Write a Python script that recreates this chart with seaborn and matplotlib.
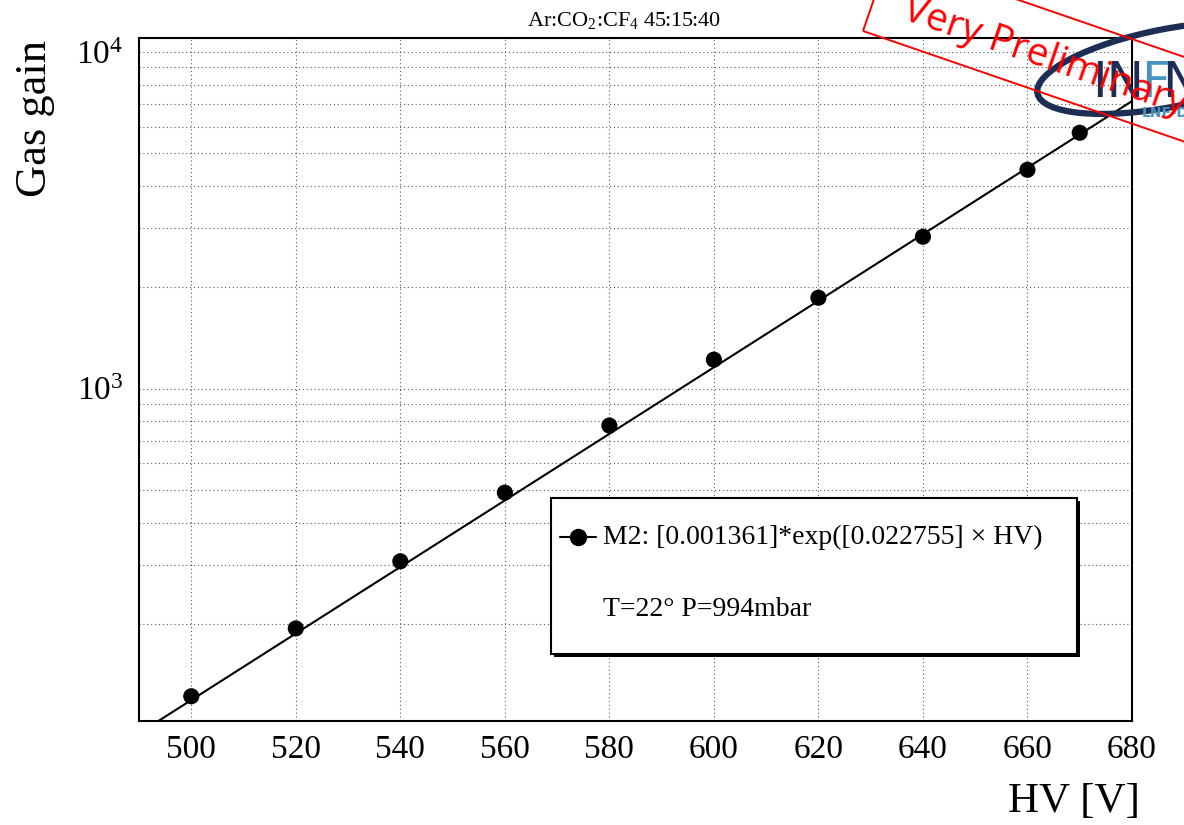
import matplotlib
matplotlib.use("Agg")
import matplotlib.pyplot as plt
import matplotlib.ticker as mticker
import matplotlib.transforms as mtransforms
from matplotlib.lines import Line2D
from matplotlib.patches import Rectangle, Ellipse
import numpy as np
import seaborn as sns

HV = [500, 520, 540, 560, 580, 600, 620, 640, 660, 670]
GAIN = [122, 194, 307, 491, 777, 1219, 1862, 2826, 4467, 5754]

# fit shown in the legend: A*exp(B*HV)
FIT_A = 0.001361
FIT_B = 0.022755
HV_RANGE = [490, 680]
GAIN_RANGE = [103, 1.1e4]

TITLE = r"Ar:CO$_2$:CF$_4$ 45:15:40"
FIT_LABEL = "M2: [0.001361]*exp([0.022755] × HV)"
COND_LABEL = "T=22° P=994mbar"
STAMP = "Very Preliminary"

W, H = 1184, 825

sns.set_style("white")
plt.rcParams["font.family"] = "serif"
plt.rcParams["font.serif"] = ["Liberation Serif", "DejaVu Serif"]
plt.rcParams["mathtext.fontset"] = "custom"
plt.rcParams["mathtext.rm"] = "Liberation Serif"
plt.rcParams["mathtext.it"] = "Liberation Serif:italic"
plt.rcParams["mathtext.bf"] = "Liberation Serif:bold"
plt.rcParams["mathtext.default"] = "regular"
for key in ["text.color", "axes.labelcolor", "xtick.color", "ytick.color"]:
    plt.rcParams[key] = "black"

fig = plt.figure(figsize=(W / 100, H / 100), dpi=100)
# pixel transform, origin at top-left like the image
px = mtransforms.Affine2D().scale(1 / 100, -1 / 100).translate(0, H / 100) + fig.dpi_scale_trans

ax = fig.add_axes([139 / W, 1 - 721 / H, 993 / W, 683 / H])
ax.set_yscale("log")

hv_fit = np.array(HV_RANGE, dtype=float)
gain_fit = FIT_A * np.exp(FIT_B * hv_fit)
sns.lineplot(x=hv_fit, y=gain_fit, color="black", linewidth=1.5, ax=ax, zorder=3)
sns.scatterplot(x=HV, y=GAIN, color="black", s=135, edgecolor="none", ax=ax, zorder=4)

ax.set_xlim(*HV_RANGE)
ax.set_ylim(*GAIN_RANGE)
ax.set_xlabel("")
ax.set_ylabel("")

ax.xaxis.set_major_locator(mticker.MultipleLocator(20))
ax.xaxis.set_minor_locator(mticker.MultipleLocator(5))
ax.yaxis.set_major_locator(mticker.LogLocator(base=10, numticks=10))
ax.yaxis.set_minor_locator(mticker.LogLocator(base=10, subs=np.arange(2, 10), numticks=10))
ax.yaxis.set_minor_formatter(mticker.NullFormatter())

ax.tick_params(axis="x", which="major", direction="in", length=14, width=1.4,
               labelsize=24, pad=10, top=False)
ax.tick_params(axis="x", which="minor", direction="in", length=7, width=1.4, top=False)
ax.tick_params(axis="y", which="major", direction="in", length=21, width=1.4,
               labelsize=24, pad=11.5, right=False)
ax.tick_params(axis="y", which="minor", direction="in", length=10.5, width=1.4, right=False)

for sp in ax.spines.values():
    sp.set_visible(True)
    sp.set_color("black")
    sp.set_linewidth(1.5)

grid_kw = dict(color="0.35", linestyle=(0, (1, 2.5)), linewidth=0.8)
ax.grid(True, axis="x", which="major", **grid_kw)
ax.grid(True, axis="y", which="both", **grid_kw)
ax.set_axisbelow(True)

# titles and axis labels (ROOT style placement)
fig.text(624, 26, TITLE, transform=px, ha="center", va="baseline", fontsize=16)
fig.text(15, 40, "Gas gain", transform=px, rotation=90, ha="left", va="top", fontsize=32)
fig.text(1140, 812, "HV [V]", transform=px, ha="right", va="baseline", fontsize=31)

# legend box with ROOT-like shadow
fig.add_artist(Rectangle((554, 501), 526, 156, transform=px, facecolor="black",
                         edgecolor="none", zorder=5))
fig.add_artist(Rectangle((551, 498), 526, 156, transform=px, facecolor="white",
                         edgecolor="black", linewidth=1.5, zorder=6))
fig.add_artist(Line2D([560, 596], [537, 537], transform=px, color="black",
                      linewidth=1.5, zorder=7))
fig.add_artist(Line2D([578], [537], transform=px, color="black", marker="o",
                      markersize=11.5, linestyle="none", zorder=7))
fig.text(603, 537, FIT_LABEL, transform=px, ha="left", va="center", fontsize=20, zorder=7)
fig.text(603, 609, COND_LABEL, transform=px, ha="left", va="center", fontsize=20, zorder=7)

# logo in the corner
navy = "#1c2e54"
light = "#4a93bf"
fig.add_artist(Ellipse((1168, 68), 266, 78, angle=-11, transform=px, fill=False,
                       edgecolor=navy, linewidth=4.5, zorder=8))
fig.text(1092, 97, "IN", transform=px, ha="left", va="baseline", fontsize=36,
         color=navy, family="DejaVu Sans", zorder=8)
fig.text(1141, 97, "F", transform=px, ha="left", va="baseline", fontsize=36,
         color=light, family="DejaVu Sans", zorder=8)
fig.text(1162, 97, "N", transform=px, ha="left", va="baseline", fontsize=36,
         color=navy, family="DejaVu Sans", zorder=8)
fig.text(1142, 117, "LNF-D", transform=px, ha="left", va="baseline", fontsize=10,
         color=light, family="DejaVu Sans", fontweight="bold", zorder=8)

# "Very Preliminary" stamp
fig.add_artist(Rectangle((863, 31), 420, -80, angle=19, transform=px, fill=False,
                         edgecolor="red", linewidth=1.4, zorder=9))
fig.text(1045, 57, STAMP, transform=px, rotation=-19, rotation_mode="anchor",
         ha="center", va="center", fontsize=28, color="red", family="Open Sans", zorder=9)

fig.savefig("out.png", dpi=100)
